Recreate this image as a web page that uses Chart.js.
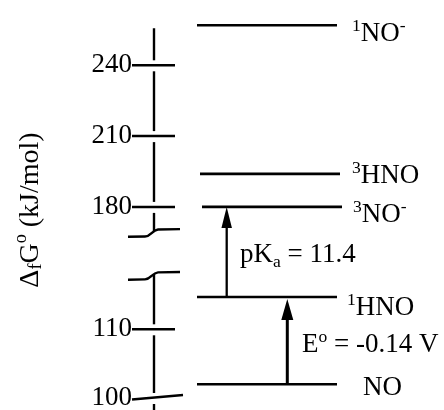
<!DOCTYPE html>
<html>
<head>
<meta charset="utf-8">
<script src="https://cdn.jsdelivr.net/npm/chart.js@4/dist/chart.umd.min.js"></script>
<style>
html,body{margin:0;padding:0;background:#fff;overflow:hidden;}
canvas{display:block;}
</style>
</head>
<body>
<canvas id="c" width="444" height="410"></canvas>
<script>
// ---------------- DATA ----------------
const species = ['NO', '1HNO', '3NO-', '3HNO', '1NO-'];
const deltaG = [102, 114.7, 180, 194, 257];          // kJ/mol
const upperTicks = [180, 210, 240];
const lowerTicks = [100, 110];
const transitionFrom = ['NO', '1HNO'];
const transitionTo = ['1HNO', '3NO-'];
const transitionText = ['E° = -0.14 V', 'pKa = 11.4'];

// rich-text versions of the labels (sup/sub markup)
const speciesParts = {
  'NO':   [{t:'NO'}],
  '1HNO': [{t:'1',sup:true},{t:'HNO'}],
  '3NO-': [{t:'3',sup:true},{t:'NO'},{t:'-',sup:true}],
  '3HNO': [{t:'3',sup:true},{t:'HNO'}],
  '1NO-': [{t:'1',sup:true},{t:'NO'},{t:'-',sup:true}]
};
const transitionParts = [
  [{t:'E'},{t:'o',sup:true},{t:' = -0.14 V'}],
  [{t:'pK'},{t:'a',sub:true},{t:' = 11.4'}]
];
const titleParts = [{t:'Δ'},{t:'f',sub:true},{t:'G'},{t:'o',sup:true},{t:' (kJ/mol)'}];

// ---------------- LAYOUT / STYLE ----------------
const FONT = '"Liberation Serif", "Times New Roman", Times, serif';
const FS = 27;
const TITLE_FS = 28;
const L = {
  axisWidth: 154,
  upperRange: [159.62, 267.67], lowerRange: [98.253, 120.815],
  upperWeight: 255, lowerWeight: 155,
  levelX: {'NO':[43,183], '1HNO':[43,183], '3NO-':[48,188], '3HNO':[46,186], '1NO-':[43,183]},
  labelX: {'NO':209, '1HNO':193, '3NO-':199, '3HNO':198, '1NO-':198},
  labelDy: {'NO':10.5, '1HNO':17.7, '3NO-':15, '3HNO':8.7, '1NO-':16},
  arrowX: [133.3, 72.7], arrowLW: [3, 2.3], arrowHead: [[21,12],[21,10.5]], arrowTipDy: [2, 0],
  transLabelX: [148, 86], transLabelDy: [352, 262],
  axisTopValue: 255.7, break1Value: 168.9, break2Value: 117.76,
  title: {x: 31, y: 210}
};

const levelAxis = v => v > 150 ? 'yTop' : 'yBot';

const datasets = species.map((s, i) => ({
  label: s,
  data: [{x: L.levelX[s][0], y: deltaG[i]}, {x: L.levelX[s][1], y: deltaG[i]}],
  yAxisID: levelAxis(deltaG[i]),
  showLine: true,
  borderColor: '#000',
  borderWidth: 2.6,
  borderCapStyle: 'butt',
  pointRadius: 0,
  fill: false
}));

function drawRich(ctx, parts, x, y, size) {
  let cx = x;
  for (const p of parts) {
    const s = (p.sup || p.sub) ? size * 0.65 : size;
    ctx.font = s + 'px ' + FONT;
    const dy = p.sup ? -size * 0.36 : (p.sub ? size * 0.2 : 0);
    ctx.fillText(p.t, cx, y + dy);
    cx += ctx.measureText(p.t).width;
  }
  return cx - x;
}
function richWidth(ctx, parts, size) {
  let w = 0;
  for (const p of parts) {
    const s = (p.sup || p.sub) ? size * 0.65 : size;
    ctx.font = s + 'px ' + FONT;
    w += ctx.measureText(p.t).width;
  }
  return w;
}

const diagramPlugin = {
  id: 'diagram',
  afterDatasetsDraw(chart) {
    const ctx = chart.ctx;
    const xs = chart.scales.x, yt = chart.scales.yTop, yb = chart.scales.yBot;
    const pxY = (v) => (v > 150 ? yt : yb).getPixelForValue(v);
    const ax = xs.getPixelForValue(0);
    ctx.save();
    ctx.strokeStyle = '#000';
    ctx.fillStyle = '#000';
    ctx.lineCap = 'butt';

    // --- axis segments with small gaps around ticks ---
    const b1 = yt.getPixelForValue(L.break1Value);
    const b2 = yb.getPixelForValue(L.break2Value);
    const tickPix = upperTicks.map(v => yt.getPixelForValue(v)).concat(lowerTicks.map(v => yb.getPixelForValue(v)));
    function axisSeg(y0, y1) {
      const cuts = tickPix.filter(t => t > y0 && t < y1).sort((a,b)=>a-b);
      let s = y0;
      ctx.lineWidth = 2.4;
      for (const t of cuts) {
        ctx.beginPath(); ctx.moveTo(ax, s); ctx.lineTo(ax, t - 5); ctx.stroke();
        s = t + 6;
      }
      if (s < y1) { ctx.beginPath(); ctx.moveTo(ax, s); ctx.lineTo(ax, y1); ctx.stroke(); }
    }
    axisSeg(yt.getPixelForValue(L.axisTopValue), b1 - 2);
    axisSeg(b2 - 2, yb.bottom + 2);

    // --- tick marks crossing the axis ---
    ctx.lineWidth = 2.5;
    upperTicks.forEach(v => {
      const y = yt.getPixelForValue(v);
      ctx.beginPath(); ctx.moveTo(ax - 22, y); ctx.lineTo(ax + 21, y); ctx.stroke();
    });
    lowerTicks.forEach((v, i) => {
      const y = yb.getPixelForValue(v);
      ctx.beginPath();
      if (i === 0) { ctx.moveTo(ax - 22, y + 1.5); ctx.lineTo(ax + 29, y - 3); }
      else { ctx.moveTo(ax - 22, y); ctx.lineTo(ax + 21, y); }
      ctx.stroke();
    });

    // --- break marks ---
    function brk(yc) {
      const yl = yc + 3.7, yr = yc - 4;
      ctx.lineWidth = 2.4;
      ctx.beginPath();
      ctx.moveTo(ax - 26, yl);
      ctx.lineTo(ax - 9, yl - 0.3);
      ctx.bezierCurveTo(ax - 3, yl - 0.5, ax - 2, yr + 1, ax + 4, yr + 0.4);
      ctx.lineTo(ax + 26, yr);
      ctx.stroke();
    }
    brk(b1); brk(b2);

    // --- arrows ---
    transitionFrom.forEach((f, i) => {
      const v0 = deltaG[species.indexOf(f)], v1 = deltaG[species.indexOf(transitionTo[i])];
      const x = xs.getPixelForValue(L.arrowX[i]);
      const y0 = pxY(v0), y1 = pxY(v1) + L.arrowTipDy[i];
      const [hl, hw] = L.arrowHead[i];
      ctx.lineWidth = L.arrowLW[i];
      ctx.beginPath(); ctx.moveTo(x, y0); ctx.lineTo(x, y1 + hl - 2); ctx.stroke();
      ctx.beginPath();
      ctx.moveTo(x, y1);
      ctx.lineTo(x - hw/2, y1 + hl);
      ctx.lineTo(x + hw/2, y1 + hl);
      ctx.closePath(); ctx.fill();
      ctx.textBaseline = 'alphabetic';
      ctx.textAlign = 'left';
      drawRich(ctx, transitionParts[i], xs.getPixelForValue(L.transLabelX[i]), L.transLabelDy[i], FS);
    });

    // --- species labels ---
    ctx.textBaseline = 'alphabetic';
    ctx.textAlign = 'left';
    species.forEach((s, i) => {
      drawRich(ctx, speciesParts[s], xs.getPixelForValue(L.labelX[s]), pxY(deltaG[i]) + L.labelDy[s], FS);
    });

    // --- y axis title (rotated) ---
    ctx.save();
    ctx.translate(L.title.x, L.title.y);
    ctx.rotate(-Math.PI / 2);
    ctx.textBaseline = 'middle';
    const tw = richWidth(ctx, titleParts, TITLE_FS);
    drawRich(ctx, titleParts, -tw / 2, 0, TITLE_FS);
    ctx.restore();

    ctx.restore();
  }
};

function fitY(s) { s.width = L.axisWidth; s.paddingTop = 0; s.paddingBottom = 0; s.paddingLeft = 0; s.paddingRight = 0; }
const tickFont = {family: FONT, size: FS};

new Chart(document.getElementById('c'), {
  type: 'scatter',
  data: {datasets},
  options: {
    responsive: false,
    devicePixelRatio: 1,
    animation: false,
    events: [],
    layout: {padding: 0, autoPadding: false},
    plugins: {legend: {display: false}, tooltip: {enabled: false}, title: {display: false}},
    scales: {
      x: {type: 'linear', min: 0, max: 290, display: false},
      yBot: {
        type: 'linear', position: 'left', stack: 'g', stackWeight: L.lowerWeight,
        min: L.lowerRange[0], max: L.lowerRange[1],
        afterBuildTicks: s => { s.ticks = lowerTicks.map(v => ({value: v})); },
        afterFit: fitY,
        ticks: {autoSkip: false, padding: 22, color: '#000', font: tickFont},
        grid: {display: false, drawTicks: false},
        border: {display: false}
      },
      yTop: {
        type: 'linear', position: 'left', stack: 'g', stackWeight: L.upperWeight,
        min: L.upperRange[0], max: L.upperRange[1],
        afterBuildTicks: s => { s.ticks = upperTicks.map(v => ({value: v})); },
        afterFit: fitY,
        ticks: {autoSkip: false, padding: 22, color: '#000', font: tickFont},
        grid: {display: false, drawTicks: false},
        border: {display: false}
      }
    }
  },
  plugins: [diagramPlugin]
});
</script>
</body>
</html>
